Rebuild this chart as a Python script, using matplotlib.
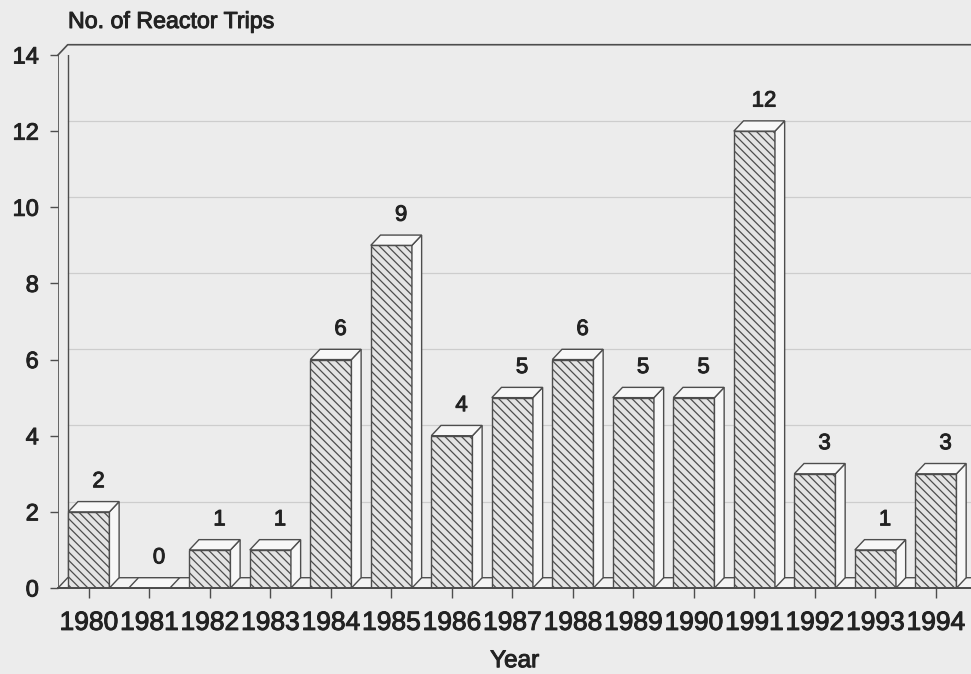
import matplotlib.pyplot as plt
import matplotlib.patheffects as pe
from matplotlib.patches import Polygon

# data
years = ['1980', '1981', '1982', '1983', '1984', '1985', '1986', '1987',
         '1988', '1989', '1990', '1991', '1992', '1993', '1994']
trips = [2, 0, 1, 1, 6, 9, 4, 5, 6, 5, 5, 12, 3, 1, 3]
y_ticks = [0, 2, 4, 6, 8, 10, 12, 14]

# fake 3-d depth, in data units
dx, dy = 0.16, 0.27
width = 0.68
xmin, xmax = -0.51, 14.58
ytop = 14

plt.rcParams['font.family'] = ['Liberation Sans', 'DejaVu Sans']
plt.rcParams['hatch.linewidth'] = 0.9
bg = '#ececec'
ink = '#4d4d4d'
txt = '#222222'
# scanned text looks a little heavier than plain regular
heavy = [pe.withStroke(linewidth=0.7, foreground=txt)]

fig = plt.figure(figsize=(9.71, 6.74), dpi=100, facecolor=bg)
ax = fig.add_axes([58 / 971, 86 / 674, 913 / 971, 533 / 674])
ax.set_facecolor(bg)
ax.set_xlim(xmin, xmax)
ax.set_ylim(0, ytop)
for s in ax.spines.values():
    s.set_visible(False)


def face(pts, fc, z):
    ax.add_patch(Polygon(pts, closed=True, facecolor=fc, edgecolor=ink,
                         lw=1, zorder=z, clip_on=False))


# floor slab
face([(xmin, 0), (xmax + 1, 0), (xmax + 1 + dx, dy), (xmin + dx, dy)], '#f3f3f3', 1)

# back wall grid and frame
for t in y_ticks[1:-1]:
    ax.plot([xmin + dx, xmax + 1], [t + dy, t + dy], color='#cdcdcd', lw=0.9,
            zorder=0.5, clip_on=False)
ax.plot([xmin, xmin], [0, ytop], color=ink, lw=1.2, zorder=2)
ax.plot([xmin, xmin + dx, xmax + 1], [ytop, ytop + dy, ytop + dy],
        color=ink, lw=1.2, zorder=2, clip_on=False)
ax.plot([xmin + dx, xmin + dx], [dy, ytop + dy], color=ink, lw=1, zorder=2)
ax.plot([xmin, xmax + 1], [0, 0], color=ink, lw=1.4, zorder=4, clip_on=False)

# bars: hatched front, plain side and top
xs = list(range(len(years)))
ax.bar(xs, trips, width=width, facecolor='#e4e4e4', edgecolor=ink,
       hatch='\\\\\\\\', lw=1, zorder=3)
for i, v in zip(xs, trips):
    x0, x1 = i - width / 2, i + width / 2
    if v > 0:
        face([(x1, 0), (x1 + dx, dy), (x1 + dx, v + dy), (x1, v)], '#f7f7f7', 3)
    face([(x0, v), (x1, v), (x1 + dx, v + dy), (x0 + dx, v + dy)], '#f7f7f7', 3)
    ax.text(i + 0.16, v + 0.79, str(v), ha='center', va='center',
            fontsize=16, color=txt, path_effects=heavy)

ax.set_xticks(xs, years)
ax.set_yticks(y_ticks)
ax.tick_params(axis='x', length=7.5, width=1, color=ink, pad=9,
               labelsize=19, labelcolor=txt)
ax.tick_params(axis='y', length=5.8, width=1, color=ink, pad=8,
               labelsize=17, labelcolor=txt)
for lab in ax.get_xticklabels() + ax.get_yticklabels():
    lab.set_path_effects(heavy)
ax.set_xlabel('Year', fontsize=17.5, color=txt, labelpad=11,
              path_effects=heavy)

fig.text(68 / 971, 1 - 21.5 / 674, 'No. of Reactor Trips', ha='left',
         va='center', fontsize=16.7, color=txt, path_effects=heavy)

fig.savefig('out.png', dpi=100, facecolor=bg)
